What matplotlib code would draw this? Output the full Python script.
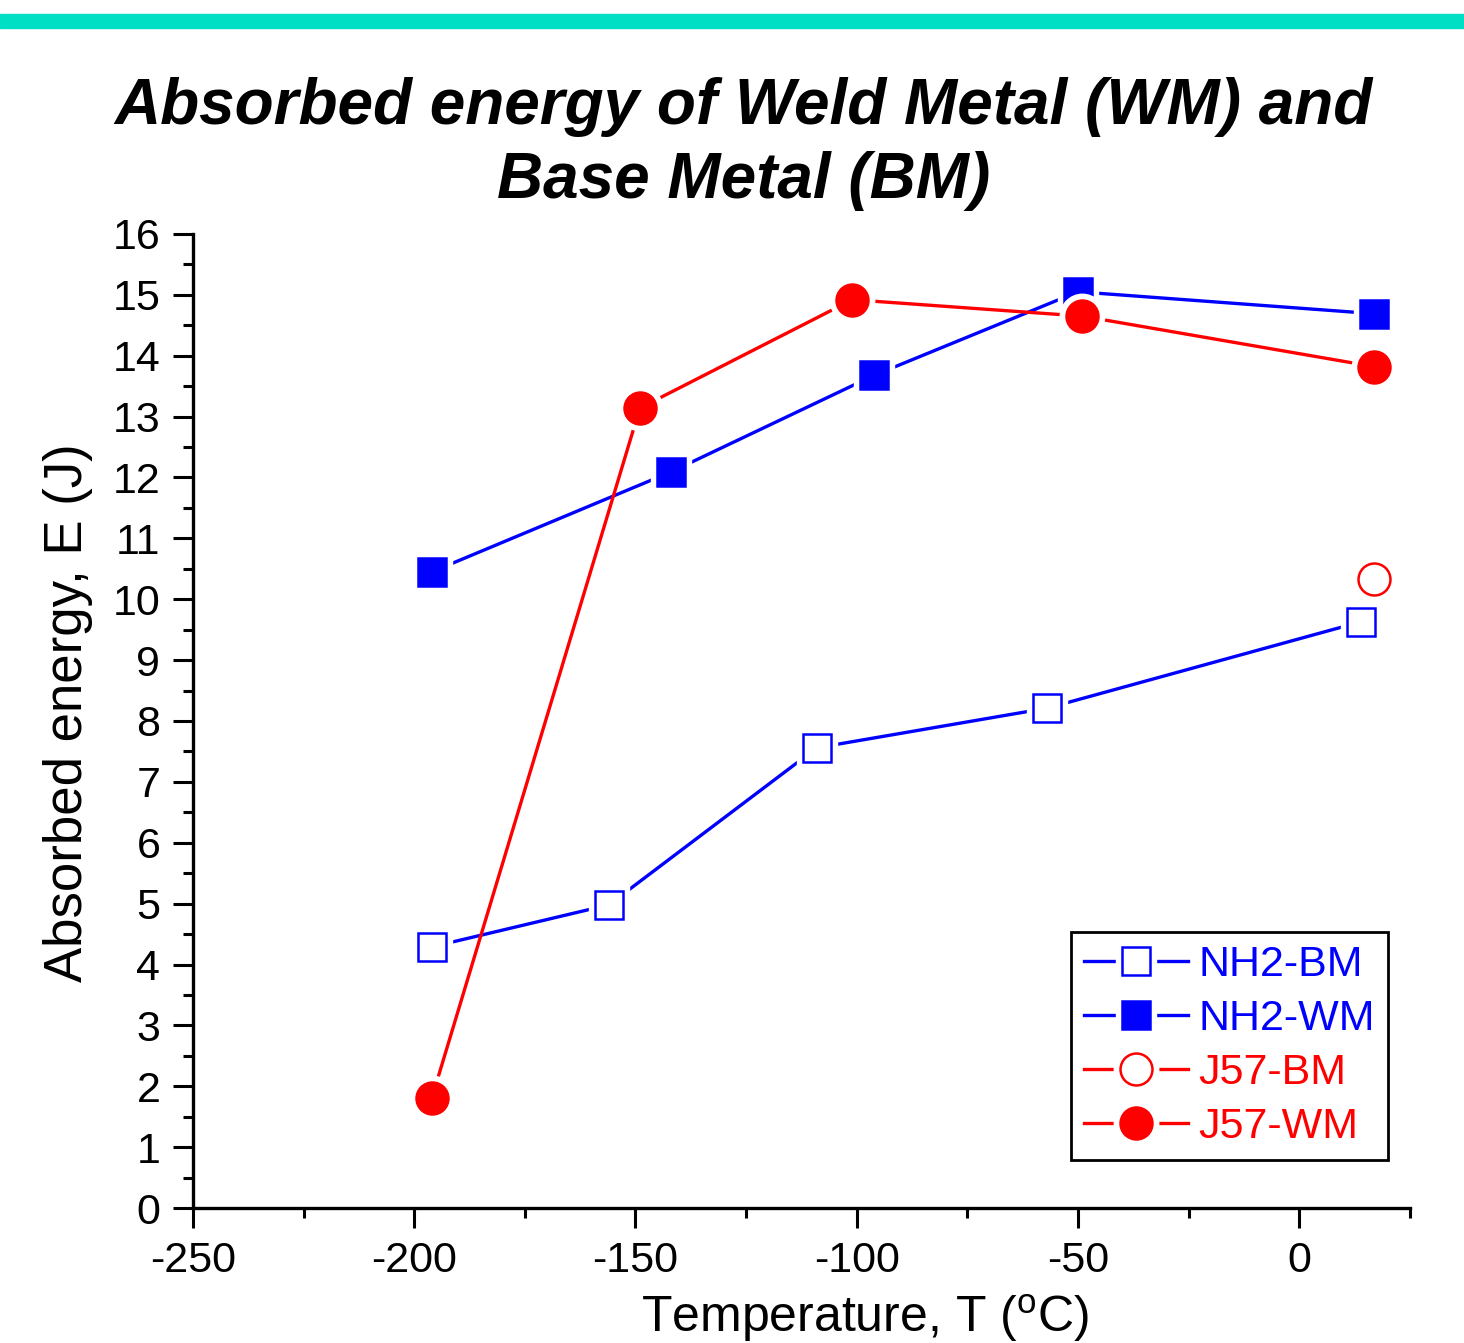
import matplotlib
matplotlib.use("Agg")
import matplotlib.pyplot as plt
from matplotlib.legend_handler import HandlerTuple
from matplotlib.ticker import MultipleLocator

plt.rcParams['font.family'] = ['Liberation Sans', 'DejaVu Sans']
plt.rcParams['axes.unicode_minus'] = False

# data
nh2_bm_t = [-196, -156, -109, -57, 14]
nh2_bm_e = [4.29, 4.98, 7.56, 8.21, 9.63]

nh2_wm_t = [-196, -142, -96, -50, 17]
nh2_wm_e = [10.45, 12.09, 13.68, 15.05, 14.69]

j57_bm_t = [17]
j57_bm_e = [10.33]

j57_wm_t = [-196, -149, -101, -49, 17]
j57_wm_e = [1.81, 13.14, 14.92, 14.65, 13.82]

series = [
    (nh2_bm_t, nh2_bm_e, 'NH2-BM', 'blue', 's', 'white', 20),
    (nh2_wm_t, nh2_wm_e, 'NH2-WM', 'blue', 's', 'blue', 20),
    (j57_bm_t, j57_bm_e, 'J57-BM', 'red', 'o', 'white', 23),
    (j57_wm_t, j57_wm_e, 'J57-WM', 'red', 'o', 'red', 23),
]

fig = plt.figure(figsize=(14.64, 13.43), dpi=100)
ax = fig.add_axes([0.1318, 0.1005, 0.8312, 0.7253])

# teal bar at the top
fig.patches.append(plt.Rectangle((0, 0.979), 1, 0.0105, transform=fig.transFigure,
                                 color='#00DEC3', zorder=0))

handles = []
labels = []
z = 2
for t, e, name, col, mk, face, ms in series:
    ln, = ax.plot(t, e, color=col, lw=2.4, zorder=z)
    # white halo so the line stops short of the marker
    halo, = ax.plot(t, e, ls='none', marker=mk, ms=ms + 9, mfc='white', mec='white', zorder=z + 1)
    mark, = ax.plot(t, e, ls='none', marker=mk, ms=ms, mfc=face, mec=col, mew=1.8, zorder=z + 2)
    handles.append((ln, halo, mark))
    labels.append(name)
    z += 3

ax.set_xlim(-250, 25)
ax.set_ylim(0, 16)
ax.xaxis.set_major_locator(MultipleLocator(50))
ax.xaxis.set_minor_locator(MultipleLocator(25))
ax.yaxis.set_major_locator(MultipleLocator(1))
ax.yaxis.set_minor_locator(MultipleLocator(0.5))

for s in ['top', 'right']:
    ax.spines[s].set_visible(False)
for s in ['left', 'bottom']:
    ax.spines[s].set_linewidth(2.4)
ax.tick_params(which='major', length=14.5, width=2.2, labelsize=31, pad=9)
ax.tick_params(which='minor', length=7, width=2.2)

ax.set_xlabel('Temperature, T ($^\\mathregular{o}$C)', fontsize=36)
ax.set_ylabel('Absorbed energy, E (J)', fontsize=38)
ax.xaxis.set_label_coords(0.552, -0.086)
ax.yaxis.set_label_coords(-0.082, 0.509)

leg = ax.legend(handles, labels, handler_map={tuple: HandlerTuple(ndivide=1, pad=0)},
                loc='lower right', bbox_to_anchor=(0.982, 0.049), fontsize=31,
                handlelength=2.4, handletextpad=0.25, labelspacing=0.33,
                borderpad=0.3, borderaxespad=0, fancybox=False, edgecolor='black',
                framealpha=1)
leg.get_frame().set_linewidth(2)
for txt, (_, _, _, col, _, _, _) in zip(leg.get_texts(), series):
    txt.set_color(col)

fig.text(0.508, 0.943, 'Absorbed energy of Weld Metal (WM) and\nBase Metal (BM)',
         ha='center', va='top', fontsize=46, fontweight='bold', fontstyle='italic',
         linespacing=1.3)

fig.savefig('out.png', dpi=100)
